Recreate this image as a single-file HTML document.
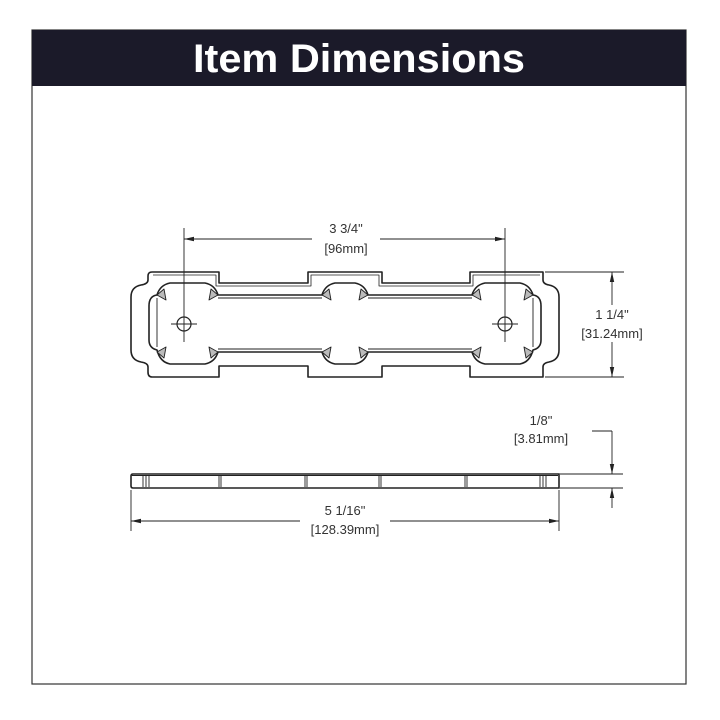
<!DOCTYPE html>
<html><head><meta charset="utf-8"><style>
html,body{margin:0;padding:0;background:#fff;}
svg{display:block;}
text{font-family:"Liberation Sans",sans-serif;}
</style></head><body>
<svg width="720" height="720" viewBox="0 0 720 720" xmlns="http://www.w3.org/2000/svg">
<defs>
<marker id="ar" markerWidth="10" markerHeight="6" refX="10" refY="3" orient="auto" markerUnits="userSpaceOnUse">
<path d="M0,0.8 L10,3 L0,5.2 Z" fill="#222"/></marker>
</defs>
<rect x="32" y="30" width="654" height="654" fill="#fff" stroke="#333" stroke-width="1.2"/>
<rect x="32" y="30" width="654" height="56" fill="#1b1a29"/>
<text x="359" y="72" fill="#fff" font-size="40" font-weight="bold" text-anchor="middle" textLength="332" lengthAdjust="spacingAndGlyphs">Item Dimensions</text>

<g fill="none" stroke="#222" stroke-width="1.6" stroke-linejoin="round">
<path d="M152,272 H219 V283 H308 V272 H382 V283 H470 V272 H543 V280 Q543,284 549,285 Q559,287 559,297 V350 Q559,360 549,362 Q543,363 543,367 V377 H470 V366 H382 V377 H308 V366 H219 V377 H152 Q148,377 148,372 V367 Q148,363 141,362 Q131,360 131,350 V297 Q131,287 141,285 Q148,284 148,280 V276 Q148,272 152,272 Z"/>
<path d="M153,275 H216 V286 H311 V275 H379 V286 H473 V275 H540" stroke-width="0.8"/>
<path d="M170,283 H205 Q215,285 218,295 H322 Q325,285 335,283 H355 Q365,285 368,295 H472 Q475,285 485,283 H520 Q530,285 533,295 Q541,296 541,306 V340 Q541,348 533,350 Q530,362 520,364 H485 Q475,362 472,352 H368 Q365,362 355,364 H335 Q325,362 322,352 H218 Q215,362 205,364 H170 Q160,362 157,350 Q149,348 149,340 V306 Q149,296 157,295 Q160,285 170,283 Z"/>
<path d="M218,298 H322 M368,298 H472 M218,349 H322 M368,349 H472 M157,298 V347 M533,298 V347" stroke-width="0.9"/>
<g stroke-width="0.9" fill="#bbb">
<path d="M157,295 L164,289 L166,300 Z M218,295 L211,289 L209,300 Z M322,295 L329,289 L331,300 Z M368,295 L361,289 L359,300 Z M472,295 L479,289 L481,300 Z M533,295 L526,289 L524,300 Z"/>
<path d="M157,352 L164,358 L166,347 Z M218,352 L211,358 L209,347 Z M322,352 L329,358 L331,347 Z M368,352 L361,358 L359,347 Z M472,352 L479,358 L481,347 Z M533,352 L526,358 L524,347 Z"/>
</g>
<circle cx="184" cy="324" r="7" stroke-width="1.2"/>
<circle cx="505" cy="324" r="7" stroke-width="1.2"/>
</g>
<g stroke="#222" stroke-width="0.9" fill="none">
<path d="M184,228 V342 M171,324 H197 M505,228 V342 M492,324 H518"/>
<line x1="312" y1="239" x2="184" y2="239" marker-end="url(#ar)"/>
<line x1="380" y1="239" x2="505" y2="239" marker-end="url(#ar)"/>
<path d="M545,272 H624 M545,377 H624"/>
<line x1="612" y1="305" x2="612" y2="272" marker-end="url(#ar)"/>
<line x1="612" y1="342" x2="612" y2="377" marker-end="url(#ar)"/>
<path d="M133,474 H559 V488 H133 Q131,488 131,486 V476 Q131,474 133,474 Z" stroke-width="1.6"/>
<path d="M132,475.5 H558" stroke-width="1"/>
<path d="M143,475 V487 M146,475 V487 M149,475 V487 M219,475 V487 M221,475 V487 M305,475 V487 M307,475 V487 M379,475 V487 M381,475 V487 M465,475 V487 M467,475 V487 M540,475 V487 M543,475 V487 M546,475 V487"/>
<path d="M560,474 H623 M560,488 H623"/>
<path d="M592,431 H612"/>
<line x1="612" y1="431" x2="612" y2="474" marker-end="url(#ar)"/>
<line x1="612" y1="508" x2="612" y2="488" marker-end="url(#ar)"/>
<path d="M131,490 V531 M559,490 V531"/>
<line x1="300" y1="521" x2="131" y2="521" marker-end="url(#ar)"/>
<line x1="390" y1="521" x2="559" y2="521" marker-end="url(#ar)"/>
</g>
<g fill="#333" font-size="13" text-anchor="middle">
<text x="346" y="233">3 3/4"</text>
<text x="346" y="253">[96mm]</text>
<text x="612" y="319">1 1/4"</text>
<text x="612" y="338">[31.24mm]</text>
<text x="541" y="425">1/8"</text>
<text x="541" y="443">[3.81mm]</text>
<text x="345" y="515">5 1/16"</text>
<text x="345" y="534">[128.39mm]</text>
</g>
</svg>
</body></html>
